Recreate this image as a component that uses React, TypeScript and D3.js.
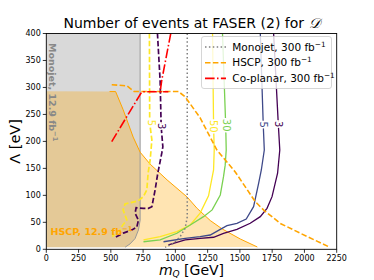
import React from "react";
import * as d3 from "d3";

type P = [number, number];

const xTicks = [0, 250, 500, 750, 1000, 1250, 1500, 1750, 2000, 2250];
const yTicks = [0, 50, 100, 150, 200, 250, 300, 350, 400];

// Monojet 12.9 fb^-1 excluded region boundary (right side)
const monojet129: P[] = [[727, 400], [727, 54], [714, 36], [688, 20], [649, 10], [611, 4]];
// HSCP 12.9 fb^-1 excluded region boundary
const hscp129: P[] = [[490, 292.4], [537, 292.4], [595, 259], [673, 208], [727, 180], [804, 158], [936, 128.6], [1091, 97], [1169, 75.7], [1270, 53.4], [1363, 37.7], [1503, 19.1], [1635, 4.3]];

// Projections 300 fb^-1
const monojet300: P[] = [[1092, 400], [1092, 60], [1076, 39], [1037, 23.4], [986, 11], [921, 3.7]];
const hscp300: P[] = [[507, 305], [624, 303], [680, 292.4], [1024, 292.4], [1076, 282.6], [1192, 243.6], [1322, 184], [1464, 143.4], [1619, 88.3], [1683, 73], [1813, 48], [1968, 29.7], [2188, 4.8]];
const coplanar300: P[] = [[507, 199.6], [740, 292], [946, 292], [882, 292], [895, 314], [965, 401]];

// Event-number contours (solid)
const c50: P[] = [[1288, 401], [1296, 230], [1301, 184], [1296, 147], [1257, 99], [1192, 67], [1115, 45], [1012, 32.7], [882, 23.4], [753, 17.3]];
const c30: P[] = [[1365, 401], [1390, 230], [1394, 184], [1386, 156], [1373, 134.7], [1348, 100.7], [1285, 73], [1218, 60.5], [1115, 45], [1012, 29.7], [882, 17.3], [753, 14]];
const c5: P[] = [[1658, 401], [1681, 230], [1689, 184], [1666, 147], [1645, 122.4], [1606, 79], [1549, 56], [1477, 48.2], [1400, 44], [1348, 37], [1270, 26.5], [1192, 23.4], [1076, 20.4], [908, 14]];
const c3: P[] = [[1761, 401], [1798, 230], [1809, 184], [1792, 141], [1749, 97.6], [1710, 76], [1658, 60.5], [1580, 48.2], [1477, 37], [1373, 29.7], [1296, 22.3], [1192, 20.4], [1076, 17.3], [946, 8]];
// Event-number contours (dashed)
const d5: P[] = [[799, 401], [801, 234], [818, 203], [805, 166], [789, 141.6], [779, 110], [752, 97.6], [711, 89.6], [610, 84], [595, 73], [624, 54.4], [587, 43], [572, 36], [510, 23.4]];
const d3c: P[] = [[861, 401], [882, 312], [890, 227], [903, 190], [895, 178.7], [863, 139.7], [843, 110], [818, 79], [791, 76], [752, 76], [696, 77], [688, 67], [714, 54], [701, 41], [663, 36], [597, 30], [533, 22]];

const contourLabels: { t: string; m: number; l: number; c: string }[] = [
  { t: "50", m: 1296, l: 228, c: "#fde725" },
  { t: "30", m: 1400, l: 230, c: "#7ad151" },
  { t: "5", m: 1683, l: 231, c: "#3e4989" },
  { t: "3", m: 1800, l: 232, c: "#440154" },
  { t: "5", m: 814, l: 234, c: "#fde725" },
  { t: "3", m: 890, l: 228, c: "#440154" },
];

const W = 374, H = 280;
const x = d3.scaleLinear().domain([0, 2250]).range([46.3, 336.7]);
const y = d3.scaleLinear().domain([0, 400]).range([249.3, 33.5]);
const line = d3.line<P>().x((d) => x(d[0])).y((d) => y(d[1]));

const FONT = "DejaVu Sans, sans-serif";

export default function App() {
  const [x0, x1] = x.range();
  const [y0, y1] = y.range();
  const greyPoly: P[] = [[0, 400], ...monojet129, [0, 4]];
  const orangePoly: P[] = [[0, 293], ...hscp129, [0, 4]];
  const legendRows = [
    { t: "Monojet, 300 fb", c: "gray", dash: "1.5,2.4" },
    { t: "HSCP, 300 fb", c: "orange", dash: "5.5,2.4" },
    { t: "Co-planar, 300 fb", c: "red", dash: "9.6,2.4,1.5,2.4" },
  ];
  return (
    <div style={{ position: "fixed", left: 0, top: 0 }}>
      <svg width={W} height={H} style={{ display: "block", fontFamily: FONT }}>
        <rect width={W} height={H} fill="white" />
        <defs>
          <clipPath id="plot">
            <rect x={x0} y={y1} width={x1 - x0} height={y0 - y1} />
          </clipPath>
        </defs>
        <g clipPath="url(#plot)">
          <path d={line(greyPoly) + "Z"} fill="gray" fillOpacity={0.3} />
          <path d={line(orangePoly) + "Z"} fill="orange" fillOpacity={0.3} />
          <path d={line(monojet129)!} fill="none" stroke="#999" strokeWidth={1} />
          <path d={line(hscp129)!} fill="none" stroke="orange" strokeWidth={1} />
          <path d={line(c50)!} fill="none" stroke="#fde725" strokeWidth={1.3} />
          <path d={line(c30)!} fill="none" stroke="#7ad151" strokeWidth={1.3} />
          <path d={line(c5)!} fill="none" stroke="#3e4989" strokeWidth={1.3} />
          <path d={line(c3)!} fill="none" stroke="#440154" strokeWidth={1.3} />
          <path d={line(d5)!} fill="none" stroke="#fde725" strokeWidth={1.7} strokeDasharray="5.5,2.4" />
          <path d={line(d3c)!} fill="none" stroke="#440154" strokeWidth={1.7} strokeDasharray="5.5,2.4" />
          <path d={line(monojet300)!} fill="none" stroke="gray" strokeWidth={1.5} strokeDasharray="1.5,2.4" />
          <path d={line(hscp300)!} fill="none" stroke="orange" strokeWidth={1.6} strokeDasharray="5.5,2.4" />
          <path d={line(coplanar300)!} fill="none" stroke="red" strokeWidth={1.6} strokeDasharray="9.6,2.4,1.5,2.4" />
          {contourLabels.map((s, i) => (
            <text key={i} transform={`translate(${x(s.m)},${y(s.l)}) rotate(90)`} textAnchor="middle" dy="0.35em"
              fontSize={10} fill={s.c} stroke="white" strokeWidth={3} paintOrder="stroke">{s.t}</text>
          ))}
          <text transform={`translate(49,43) rotate(90)`} fontSize={9.5} fontWeight="bold" fill="#888">
            Monojet, 12.9 fb<tspan baseline-shift="super" fontSize="70%">−1</tspan>
          </text>
          <text x={50.5} y={235} fontSize={9.5} fontWeight="bold" fill="orange">
            HSCP, 12.9 fb<tspan baseline-shift="super" fontSize="70%">−1</tspan>
          </text>
        </g>
        {/* Legend */}
        <rect x={201.5} y={36.5} width={130} height={52} rx={2.5} fill="white" fillOpacity={0.8} stroke="#ccc" strokeWidth={0.8} />
        {legendRows.map((r, i) => {
          const yy = 47 + i * 15.7;
          return (
            <g key={i}>
              <line x1={205} x2={226} y1={yy} y2={yy} stroke={r.c} strokeWidth={1.6} strokeDasharray={r.dash} />
              <text x={232.3} y={yy} dy="0.35em" fontSize={10.5} fill="#000">
                {r.t}<tspan baseline-shift="super" fontSize="70%">−1</tspan>
              </text>
            </g>
          );
        })}
        {/* Axes */}
        <rect x={x0} y={y1} width={x1 - x0} height={y0 - y1} fill="none" stroke="#000" strokeWidth={0.9} />
        {xTicks.map((t) => (
          <g key={"x" + t}>
            <line x1={x(t)} x2={x(t)} y1={y0} y2={y0 + 3.5} stroke="#000" strokeWidth={0.8} />
            <text x={x(t)} y={y0 + 11.5} textAnchor="middle" fontSize={8} fill="#000">{t}</text>
          </g>
        ))}
        {yTicks.map((t) => (
          <g key={"y" + t}>
            <line x1={x0 - 3.5} x2={x0} y1={y(t)} y2={y(t)} stroke="#000" strokeWidth={0.8} />
            <text x={x0 - 5.5} y={y(t)} dy="0.35em" textAnchor="end" fontSize={8} fill="#000">{t}</text>
          </g>
        ))}
        <text x={191.5} y={28} textAnchor="middle" fontSize={14} fill="#000">
          Number of events at FASER (2) for <tspan fontStyle="italic" fontFamily="DejaVu Serif, serif">𝒟</tspan>
        </text>
        <text x={191.5} y={274.5} textAnchor="middle" fontSize={14} fill="#000">
          <tspan fontStyle="italic">m</tspan>
          <tspan dy={2.5} fontSize={9} fontStyle="italic">Q</tspan>
          <tspan dy={-2.5}> [GeV]</tspan>
        </text>
        <text transform={`translate(20,${(y0 + y1) / 2}) rotate(-90)`} textAnchor="middle" fontSize={14.5} fill="#000">
          Λ [eV]
        </text>
      </svg>
    </div>
  );
}
